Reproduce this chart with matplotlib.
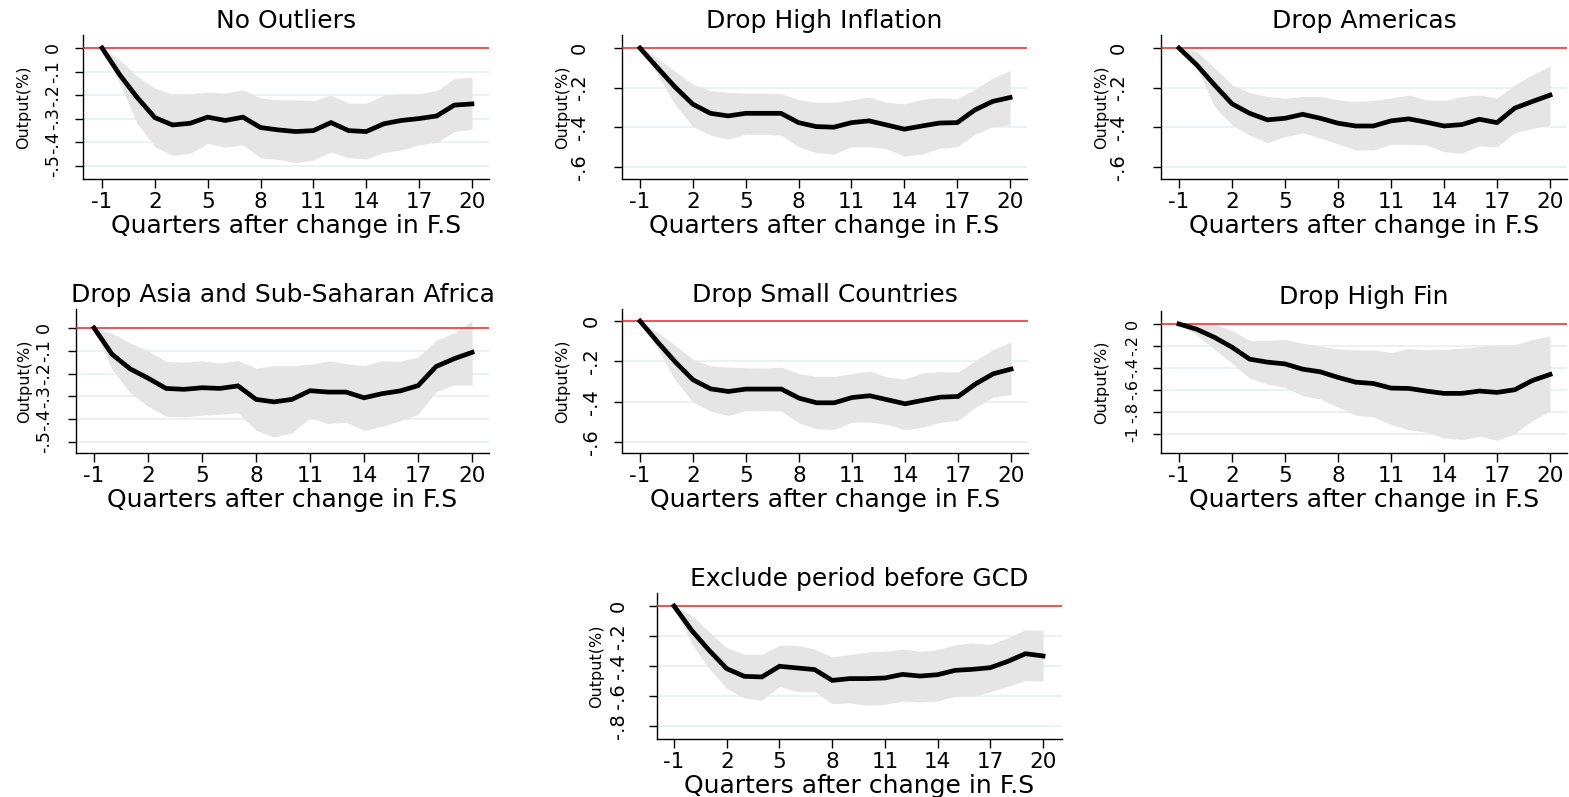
import matplotlib
matplotlib.use("Agg")
import matplotlib.pyplot as plt

W, H = 1569, 797

quarters = list(range(-1, 21))
xtick_vals = [-1, 2, 5, 8, 11, 14, 17, 20]
xtick_labels = ["-1", "2", "5", "8", "11", "14", "17", "20"]
x_title = "Quarters after change in F.S"
y_title = "Output(%)"

titles = ["No Outliers", "Drop High Inflation", "Drop Americas",
          "Drop Asia and Sub-Saharan Africa", "Drop Small Countries",
          "Drop High Fin", "Exclude period before GCD"]

# ---- Panel 1: No Outliers
p1_irf = [0, -0.113, -0.21, -0.295, -0.326, -0.319, -0.293, -0.307, -0.293, -0.337, -0.347,
          -0.354, -0.35, -0.316, -0.35, -0.354, -0.321, -0.307, -0.299, -0.288, -0.242, -0.237]
p1_hi = [0, -0.05, -0.12, -0.17, -0.195, -0.194, -0.187, -0.191, -0.177, -0.212, -0.22,
         -0.22, -0.224, -0.2, -0.234, -0.234, -0.2, -0.194, -0.194, -0.18, -0.129, -0.123]
p1_lo = [0, -0.15, -0.32, -0.418, -0.455, -0.446, -0.404, -0.42, -0.41, -0.465, -0.472,
         -0.486, -0.475, -0.44, -0.465, -0.47, -0.443, -0.432, -0.41, -0.4, -0.354, -0.344]

# ---- Panel 2: Drop High Inflation
p2_irf = [0, -0.10, -0.198, -0.284, -0.33, -0.343, -0.33, -0.33, -0.33, -0.377, -0.397,
          -0.40, -0.377, -0.368, -0.389, -0.41, -0.394, -0.379, -0.377, -0.313, -0.27, -0.25]
p2_hi = [0, -0.05, -0.118, -0.183, -0.216, -0.223, -0.228, -0.228, -0.23, -0.262, -0.274,
         -0.274, -0.262, -0.248, -0.274, -0.282, -0.259, -0.252, -0.257, -0.208, -0.152, -0.113]
p2_lo = [0, -0.135, -0.287, -0.397, -0.44, -0.461, -0.436, -0.436, -0.44, -0.499, -0.529,
         -0.536, -0.499, -0.499, -0.51, -0.546, -0.536, -0.507, -0.499, -0.436, -0.397, -0.389]

# ---- Panel 3: Drop Americas
p3_irf = [0, -0.085, -0.186, -0.282, -0.33, -0.363, -0.355, -0.335, -0.355, -0.38, -0.394,
          -0.394, -0.368, -0.358, -0.375, -0.394, -0.387, -0.36, -0.377, -0.304, -0.27, -0.238]
p3_hi = [0, -0.017, -0.10, -0.186, -0.225, -0.245, -0.253, -0.245, -0.245, -0.262, -0.27,
         -0.265, -0.253, -0.237, -0.262, -0.265, -0.245, -0.237, -0.253, -0.186, -0.135, -0.09]
p3_lo = [0, -0.093, -0.296, -0.389, -0.44, -0.478, -0.448, -0.428, -0.456, -0.485, -0.515,
         -0.515, -0.487, -0.487, -0.49, -0.524, -0.532, -0.494, -0.499, -0.428, -0.406, -0.389]

# ---- Panel 4: Drop Asia and Sub-Saharan Africa
p4_irf = [0, -0.115, -0.179, -0.22, -0.265, -0.269, -0.262, -0.265, -0.254, -0.313, -0.324,
          -0.313, -0.275, -0.281, -0.281, -0.306, -0.288, -0.276, -0.253, -0.169, -0.135, -0.107]
p4_hi = [0, -0.022, -0.066, -0.099, -0.147, -0.15, -0.144, -0.154, -0.143, -0.176, -0.165,
         -0.166, -0.16, -0.144, -0.157, -0.165, -0.144, -0.146, -0.128, -0.054, -0.022, 0.032]
p4_lo = [0, -0.181, -0.284, -0.343, -0.387, -0.39, -0.382, -0.378, -0.372, -0.449, -0.478,
         -0.46, -0.393, -0.419, -0.413, -0.449, -0.431, -0.407, -0.378, -0.279, -0.25, -0.25]

# ---- Panel 5: Drop Small Countries
p5_irf = [0, -0.104, -0.203, -0.291, -0.336, -0.349, -0.337, -0.337, -0.337, -0.382, -0.405,
          -0.405, -0.379, -0.37, -0.39, -0.41, -0.393, -0.377, -0.374, -0.311, -0.261, -0.238]
p5_hi = [0, -0.055, -0.121, -0.19, -0.223, -0.228, -0.231, -0.233, -0.228, -0.261, -0.274,
         -0.274, -0.261, -0.248, -0.278, -0.286, -0.256, -0.25, -0.253, -0.195, -0.14, -0.104]
p5_lo = [0, -0.137, -0.294, -0.402, -0.446, -0.468, -0.443, -0.443, -0.446, -0.506, -0.534,
         -0.537, -0.501, -0.501, -0.512, -0.539, -0.526, -0.501, -0.493, -0.426, -0.377, -0.365]

# ---- Panel 6: Drop High Fin
p6_irf = [0, -0.048, -0.121, -0.211, -0.32, -0.347, -0.363, -0.411, -0.435, -0.486, -0.529,
          -0.541, -0.583, -0.586, -0.61, -0.631, -0.631, -0.61, -0.622, -0.598, -0.514, -0.459]
p6_hi = [0, 0.006, -0.003, -0.06, -0.151, -0.151, -0.139, -0.175, -0.2, -0.227, -0.236,
         -0.236, -0.26, -0.224, -0.236, -0.23, -0.22, -0.205, -0.19, -0.19, -0.139, -0.109]
p6_lo = [0, -0.1, -0.23, -0.356, -0.492, -0.547, -0.577, -0.653, -0.683, -0.755, -0.83,
         -0.846, -0.915, -0.961, -0.985, -1.036, -1.051, -1.02, -1.057, -1.0, -0.876, -0.795]

# ---- Panel 7: Exclude period before GCD
p7_irf = [0, -0.162, -0.296, -0.418, -0.469, -0.473, -0.402, -0.413, -0.424, -0.496, -0.484,
          -0.484, -0.48, -0.456, -0.467, -0.458, -0.429, -0.422, -0.411, -0.369, -0.318, -0.333]
p7_hi = [0, -0.062, -0.173, -0.278, -0.322, -0.322, -0.262, -0.262, -0.287, -0.34, -0.322,
         -0.307, -0.302, -0.287, -0.302, -0.291, -0.258, -0.247, -0.256, -0.211, -0.158, -0.162]
p7_lo = [0, -0.251, -0.418, -0.551, -0.613, -0.629, -0.536, -0.569, -0.569, -0.651, -0.647,
         -0.662, -0.656, -0.633, -0.64, -0.633, -0.602, -0.602, -0.573, -0.536, -0.496, -0.502]

irfs = [p1_irf, p2_irf, p3_irf, p4_irf, p5_irf, p6_irf, p7_irf]
his = [p1_hi, p2_hi, p3_hi, p4_hi, p5_hi, p6_hi, p7_hi]
los = [p1_lo, p2_lo, p3_lo, p4_lo, p5_lo, p6_lo, p7_lo]

yticks_01 = [0, -0.1, -0.2, -0.3, -0.4, -0.5]
ylabels_01 = ["0", "-.1", "-.2", "-.3", "-.4", "-.5"]
yticks_06 = [0, -0.2, -0.4, -0.6]
ylabels_06 = ["0", "-.2", "-.4", "-.6"]
yticks_08 = [0, -0.2, -0.4, -0.6, -0.8]
ylabels_08 = ["0", "-.2", "-.4", "-.6", "-.8"]
yticks_10 = [0, -0.2, -0.4, -0.6, -0.8, -1.0]
ylabels_10 = ["0", "-.2", "-.4", "-.6", "-.8", "-1"]

yticks_list = [yticks_01, yticks_06, yticks_06, yticks_01, yticks_06, yticks_10, yticks_08]
ylabels_list = [ylabels_01, ylabels_06, ylabels_06, ylabels_01, ylabels_06, ylabels_10, ylabels_08]

# layout in pixels: left, top, right, bottom ; xlim ; ylim ; ytick pad ; ylabel center x ; ytick size
layout = [
    ((83, 35, 489, 179), (-2.08, 20.97), (-0.555, 0.055), 9.0, 24, 12.5),
    ((622, 35, 1027, 179), (-2.02, 20.96), (-0.662, 0.066), 18.0, 563, 14),
    ((1161, 35, 1567, 179), (-2.02, 20.96), (-0.662, 0.066), 18.0, 1102, 14),
    ((76, 309, 489, 453), (-2.0, 20.94), (-0.548, 0.083), 10.5, 25, 12.5),
    ((622, 309, 1028, 453), (-2.02, 20.96), (-0.654, 0.06), 9.0, 563, 14),
    ((1161, 311, 1567, 453), (-2.02, 20.96), (-1.173, 0.118), 9.0, 1102, 11.5),
    ((657, 593, 1062, 739), (-1.97, 21.08), (-0.887, 0.087), 15.0, 597, 14),
]

plt.rcParams["font.family"] = ["DejaVu Sans"]
fig = plt.figure(figsize=(W / 100, H / 100), dpi=100)

for i in range(7):
    (l, t, r, b), xl, yl, ypad, ylx, yfs = layout[i]
    ax = fig.add_axes([l / W, 1 - b / H, (r - l) / W, (b - t) / H])
    ax.set_xlim(*xl)
    ax.set_ylim(*yl)
    ax.fill_between(quarters, los[i], his[i], color="#e5e5e5", lw=0, zorder=2)
    ax.axhline(0, color="#ff2020", lw=1.1, zorder=3)
    ax.plot(quarters, irfs[i], color="black", lw=3.4, zorder=4, solid_joinstyle="miter")
    for s in ["top", "right"]:
        ax.spines[s].set_visible(False)
    for s in ["left", "bottom"]:
        ax.spines[s].set_linewidth(1.0)
    ax.set_yticks(yticks_list[i])
    ax.set_yticklabels(ylabels_list[i], fontsize=yfs)
    ax.set_xticks(xtick_vals)
    ax.set_xticklabels(xtick_labels, fontsize=15.5)
    ax.grid(axis="y", color="#e8f0f2", lw=1.2, zorder=1)
    ax.set_axisbelow(True)
    ax.tick_params(axis="y", length=6, width=1, pad=ypad, labelrotation=90)
    ax.tick_params(axis="x", length=6.5, width=1, pad=3)
    for lbl in ax.get_yticklabels():
        lbl.set_verticalalignment("center")
    ax.set_xlabel(x_title, fontsize=18, labelpad=1)
    ax.set_ylabel(y_title, fontsize=11.5)
    ax.yaxis.set_label_coords((ylx - l) / (r - l), 0.5)
    ax.yaxis.label.set_verticalalignment("center")
    ax.set_title(titles[i], fontsize=18, pad=5)

fig.savefig("out.png", dpi=100)
